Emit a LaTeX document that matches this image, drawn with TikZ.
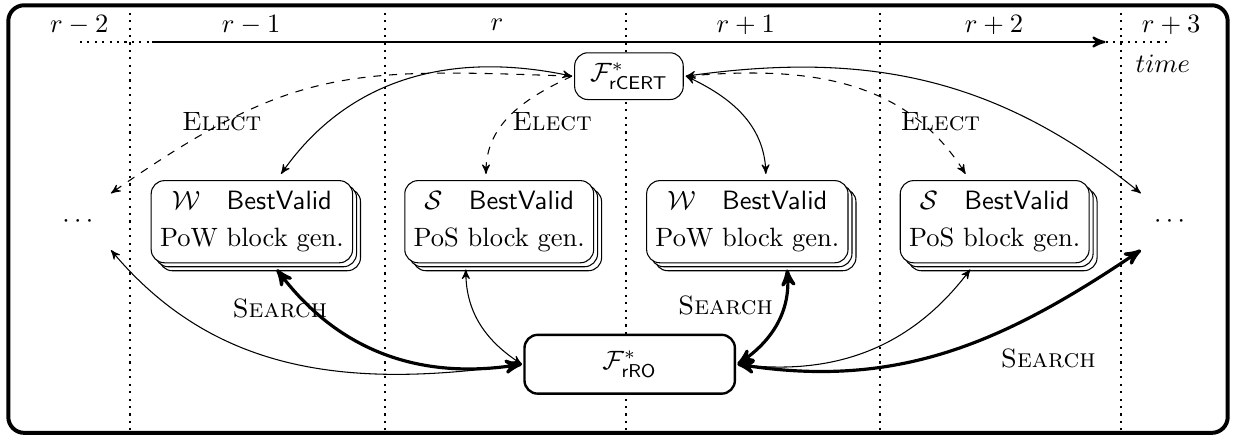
\documentclass[tikz,border=0pt]{standalone}
\usepackage{amsmath,amssymb}
\usetikzlibrary{arrows,shadows}

\tikzset{
  >=stealth',
  gen/.style={draw, rounded corners=5pt, fill=white, align=center,
    minimum height=31pt, outer sep=2.5pt,
    copy shadow={shadow xshift=3pt, shadow yshift=-3pt},
    copy shadow={shadow xshift=1.5pt, shadow yshift=-1.5pt}},
  func/.style={draw, rounded corners=5pt, fill=white, outer sep=1pt},
  more/.style={minimum width=23pt, minimum height=21pt},
  roundsep/.style={thick, dotted},
  elect/.style={->, dashed},
  link/.style={<->},
  search/.style={<->, very thick},
}

\newcommand{\powgen}{$\mathcal{W}\quad\mathsf{BestValid}$\\[2pt] PoW block gen.}
\newcommand{\posgen}{$\mathcal{S}\quad\mathsf{BestValid}$\\[2pt] PoS block gen.}

\begin{document}
\begin{tikzpicture}
  \useasboundingbox (0,0) rectangle (16.39,-5.78);

  % rounds and time axis
  \foreach \x in {1.72,5.11,8.30,11.67,14.87}
    \draw[roundsep] (\x,-0.07) -- (\x,-5.74);
  \foreach \x/\lab [count=\i] in {1.05/r-2, 3.33/r-1, 6.59/r, 9.89/r+1, 13.18/r+2, 15.53/r+3}
    \node (round\i) at (\x,-0.33) {$\lab$};
  \coordinate (t0) at (1.06,-0.557);
  \coordinate (t1) at (2.02,-0.557);
  \coordinate (t2) at (14.66,-0.557);
  \coordinate (t3) at (15.49,-0.557);
  \draw[thick, dotted] (t0) -- (t1);
  \draw[thick, ->] (t1) -- (t2);
  \draw[thick, dotted] (t2) -- (t3);
  \node (time) at (15.42,-0.84) {$time$};

  % functionalities
  \node[func, minimum width=1.44cm, minimum height=0.62cm] (cert) at (8.34,-1.01) {$\mathcal{F}^*_{\mathsf{rCERT}}$};
  \node[func, line width=0.9pt, minimum width=2.79cm, minimum height=0.78cm] (ro) at (8.35,-4.83) {$\mathcal{F}^*_{\mathsf{rRO}}$};

  % block generation
  \node[gen] (w1) at (3.34,-2.94) {\powgen};
  \node[gen] (s2) at (6.62,-2.94) {\posgen};
  \node[gen] (w3) at (9.91,-2.94) {\powgen};
  \node[gen] (s4) at (13.19,-2.94) {\posgen};
  \node[more] (ldots) at (1.06,-2.94) {$\cdots$};
  \node[more] (rdots) at (15.54,-2.94) {$\cdots$};

  % elect / certify
  \draw[elect] (cert.west) to[out=178, in=35, looseness=1.2] (ldots.north east);
  \draw[elect] (cert.west) to[out=205, in=90] ([xshift=-5pt]s2.north);
  \draw[elect] (cert.east) to[out=5, in=122] ([xshift=-11pt]s4.north);
  \draw[link] (cert.west) to[out=168, in=55] ([xshift=11pt]w1.north);
  \draw[link] (cert.east) to[out=-25, in=92] ([xshift=7pt]w3.north);
  \draw[link] (cert.east) to[out=8, in=141] (rdots.north west);
  \node (elect1) at (2.94,-1.62) {\textsc{Elect}};
  \node (elect2) at (7.32,-1.62) {\textsc{Elect}};
  \node (elect3) at (12.47,-1.62) {\textsc{Elect}};

  % search
  \draw[link] (ro.west) to[out=188, in=-50] (ldots.south east);
  \draw[search] (ro.west) to[out=189, in=-53] ([xshift=9.4pt]w1.south);
  \draw[link] (ro.west) to[out=147, in=-90] ([xshift=-12.6pt]s2.south);
  \draw[search] (ro.east) to[out=34, in=-85] ([xshift=15pt]w3.south);
  \draw[link] (ro.east) to[out=-7, in=233] ([xshift=-9.2pt]s4.south);
  \draw[search] (ro.east) to[out=-9, in=214] (rdots.south west);
  \node (search1) at (3.71,-4.09) {\textsc{Search}};
  \node (search2) at (9.62,-4.05) {\textsc{Search}};
  \node (search3) at (13.90,-4.75) {\textsc{Search}};

  \draw[line width=1.5pt, rounded corners=6pt] (0.11,-0.07) rectangle (16.28,-5.74);
\end{tikzpicture}
\end{document}
